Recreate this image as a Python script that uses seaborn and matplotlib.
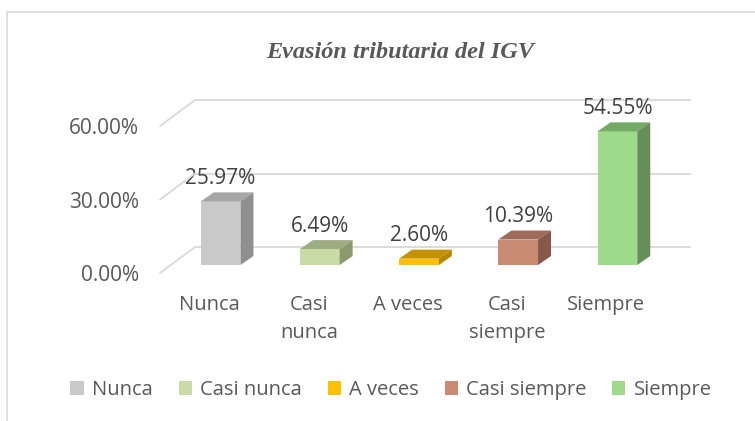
import matplotlib
matplotlib.use("Agg")
import matplotlib.pyplot as plt
import seaborn as sns
from matplotlib.patches import Polygon, Rectangle, Patch, ConnectionPatch

# datos
categorias = ["Nunca", "Casi nunca", "A veces", "Casi siempre", "Siempre"]
etiquetas_x = ["Nunca", "Casi\nnunca", "A veces", "Casi\nsiempre", "Siempre"]
porcentajes = [25.97, 6.49, 2.60, 10.39, 54.55]
ticks_y = [0, 30, 60]
ticks_y_txt = ["0.00%", "30.00%", "60.00%"]

col_frente = ["#C9C9C9", "#C9DBA6", "#FFC000", "#C98C73", "#9DDB8A"]
col_arriba = ["#A6A6A6", "#9EAD80", "#C49100", "#9D6B58", "#73AA65"]
col_lado = ["#8F8F8F", "#8A9A6D", "#B58600", "#86594A", "#668F58"]

gris = "#595959"
grid_col = "#D9D9D9"

sns.set_style("white")
plt.rcParams['font.family'] = ['Open Sans', 'DejaVu Sans']

W, H = 755, 421
fig = plt.figure(figsize=(7.55, 4.21), dpi=100)

def rect(left, bottom_px, width, height):
    # pixel -> fraccion de figura (bottom_px medido desde arriba)
    return [left / W, (H - bottom_px) / H, width / W, height / H]

aw, ah = 496, 147
ax_back = fig.add_axes(rect(195, 247, aw, ah))
ax_front = fig.add_axes(rect(160, 273, aw, ah))
ax = fig.add_axes(rect(171, 265, aw, ah))

for a in (ax_back, ax_front, ax):
    a.set_xlim(-0.5, 4.5)
    a.set_ylim(0, 60)
    a.patch.set_alpha(0)
    for s in a.spines.values():
        s.set_visible(False)

# pared del fondo
ax_back.hlines(ticks_y, -0.5, 4.5, color=grid_col, lw=1.3, clip_on=False)
ax_back.set_xticks([])
ax_back.set_yticks([])

# diagonales del piso/lateral
for t in ticks_y:
    con = ConnectionPatch(xyA=(-0.5, t), coordsA=ax_front.transData,
                          xyB=(-0.5, t), coordsB=ax_back.transData,
                          color=grid_col, lw=1.3)
    fig.add_artist(con)

# etiquetas de ejes en el plano frontal
ax_front.set_xticks(range(len(categorias)))
ax_front.set_xticklabels(etiquetas_x, fontsize=14.5, color=gris, linespacing=1.5)
ax_front.set_yticks(ticks_y)
ax_front.set_yticklabels(ticks_y_txt, fontsize=15, color=gris)
ax_front.tick_params(axis='x', length=0, pad=16)
ax_front.tick_params(axis='y', length=0, pad=15)

# barras
sns.barplot(x=categorias, y=porcentajes, hue=categorias, palette=col_frente,
            width=0.4, saturation=1, legend=False, ax=ax, edgecolor='none')
ax.set_xlim(-0.5, 4.5)
ax.set_ylim(0, 60)
ax.set_xticks([])
ax.set_yticks([])
ax.set_xlabel("")
ax.set_ylabel("")

# profundidad 3D
ddx = 13 / (aw / 5)
ddy = 9 / (ah / 60)
for i, p in enumerate(ax.patches):
    x0 = p.get_x()
    x1 = x0 + p.get_width()
    h = p.get_height()
    top = Polygon([(x0, h), (x1, h), (x1 + ddx, h + ddy), (x0 + ddx, h + ddy)],
                  closed=True, facecolor=col_arriba[i], edgecolor='none', clip_on=False)
    side = Polygon([(x1, 0), (x1, h), (x1 + ddx, h + ddy), (x1 + ddx, ddy)],
                   closed=True, facecolor=col_lado[i], edgecolor='none', clip_on=False)
    ax.add_patch(top)
    ax.add_patch(side)

for c in ax.containers:
    ax.bar_label(c, fmt='{:.2f}%', padding=9, fontsize=15, color="#404040")

# titulo
fig.text(400 / W, 1 - 52 / H, "Evasión tributaria del IGV", ha='center', va='center',
         fontsize=17.5, fontweight='bold', fontstyle='italic', color=gris,
         family='Liberation Serif')

# leyenda
handles = [Patch(facecolor=c, edgecolor='none') for c in col_frente]
fig.legend(handles, categorias, ncol=5, loc='center',
           bbox_to_anchor=(391 / W, 1 - 390 / H), frameon=False,
           handlelength=0.65, handleheight=0.65, handletextpad=0.4,
           columnspacing=1.3, fontsize=14.5, labelcolor=gris)

# borde del grafico
fig.add_artist(Rectangle((7 / W, -0.1), 1.2, 1.1 - 12 / H, transform=fig.transFigure,
                         fill=False, edgecolor=grid_col, lw=1.2))

plt.savefig("out.png", dpi=100)
